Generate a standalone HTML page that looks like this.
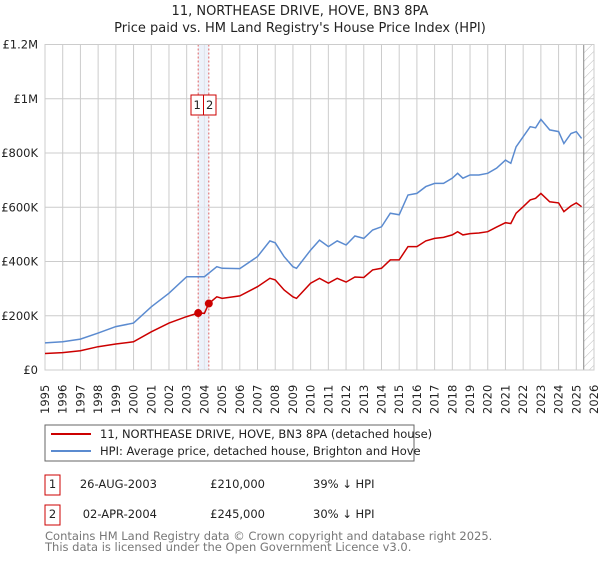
<!DOCTYPE html>
<html><head><meta charset="utf-8"><style>
body{margin:0;background:#fff;font-family:"Liberation Sans","DejaVu Sans",sans-serif}
svg text{font-family:"DejaVu Sans","Liberation Sans",sans-serif}
</style></head><body>
<svg id="c" width="600" height="560" viewBox="0 0 600 560" xmlns="http://www.w3.org/2000/svg">
<defs><pattern id="hatch" width="6" height="6" patternUnits="userSpaceOnUse" patternTransform="rotate(45)"><line x1="0" y1="0" x2="0" y2="6" stroke="#bbb" stroke-width="1"/></pattern></defs>
<text x="300" y="15" text-anchor="middle" font-size="13" fill="#222">11, NORTHEASE DRIVE, HOVE, BN3 8PA</text>
<text x="300" y="32" text-anchor="middle" font-size="13" fill="#222">Price paid vs. HM Land Registry's House Price Index (HPI)</text>
<g id="grid"></g><g id="marks"></g><g id="axes"></g>
<g>
<rect x="45" y="425" width="369" height="36" fill="#fff" stroke="#666"/>
<line x1="51" y1="434" x2="91" y2="434" stroke="#cc0000" stroke-width="2"/>
<text x="100" y="438" font-size="11.5" fill="#222">11, NORTHEASE DRIVE, HOVE, BN3 8PA (detached house)</text>
<line x1="51" y1="451" x2="91" y2="451" stroke="#5b8bd0" stroke-width="2"/>
<text x="100" y="455" font-size="11.5" fill="#222">HPI: Average price, detached house, Brighton and Hove</text>
</g>
<g font-size="11.5" fill="#222">
<rect x="45" y="475" width="15" height="20" fill="none" stroke="#cc0000"/><text x="52.5" y="488" text-anchor="middle">1</text>
<text x="157" y="488" text-anchor="end">26-AUG-2003</text><text x="265" y="488" text-anchor="end">£210,000</text><text x="313" y="488">39% ↓ HPI</text>
<rect x="45" y="505" width="15" height="20" fill="none" stroke="#cc0000"/><text x="52.5" y="518" text-anchor="middle">2</text>
<text x="157" y="518" text-anchor="end">02-APR-2004</text><text x="265" y="518" text-anchor="end">£245,000</text><text x="313" y="518">30% ↓ HPI</text>
</g>
<text x="45" y="540" font-size="11.5" fill="#777">Contains HM Land Registry data © Crown copyright and database right 2025.</text>
<text x="45" y="551" font-size="11.5" fill="#777">This data is licensed under the Open Government Licence v3.0.</text>
</svg>
<script>
const hpiYears=[1995,1996,1997,1998,1999,2000,2001,2002,2003,2004,2004.7,2005,2006,2007,2007.7,2008,2008.5,2009,2009.2,2010,2010.5,2011,2011.5,2012,2012.5,2013,2013.5,2014,2014.5,2015,2015.5,2016,2016.5,2017,2017.5,2018,2018.3,2018.6,2019,2019.5,2020,2020.5,2021,2021.3,2021.6,2022,2022.4,2022.7,2023,2023.5,2024,2024.3,2024.7,2025,2025.3];
const hpiValues=[100,104,114,136,160,173,233,283,344,344,381,375,374,418,476,469,418,381,375,442,479,455,476,461,494,485,516,528,578,572,645,651,676,688,688,707,725,707,719,719,725,744,774,762,823,860,897,893,924,885,879,835,872,879,854];
const paidYears=[1995,1996,1997,1998,1999,2000,2001,2002,2003,2003.65,2004,2004.25,2004.7,2005,2006,2007,2007.7,2008,2008.5,2009,2009.2,2010,2010.5,2011,2011.5,2012,2012.5,2013,2013.5,2014,2014.5,2015,2015.5,2016,2016.5,2017,2017.5,2018,2018.3,2018.6,2019,2019.5,2020,2020.5,2021,2021.3,2021.6,2022,2022.4,2022.7,2023,2023.5,2024,2024.3,2024.7,2025,2025.3];
const paidValues=[61,64,71,86,96,104,141,173,197,210,209,245,270,264,273,307,338,332,295,270,264,320,338,320,338,324,343,341,369,375,406,406,455,455,476,485,489,498,510,498,503,505,510,527,543,540,578,602,627,633,651,620,616,584,605,616,602];
const saleYears=[2003.65,2004.25];
const saleValues=[210,245];
const saleLabels=["1","2"];
const yTicks=[0,200,400,600,800,1000,1200];
const yTickLabels=["£0","£200K","£400K","£600K","£800K","£1M","£1.2M"];
const xTicks=[];for(let y=1995;y<=2026;y++)xTicks.push(y);
const dataEnd=2025.42;
const X0=45,X1=594,Y0=370,Y1=44.5;
const sx=v=>X0+(v-1995)/(2026-1995)*(X1-X0);
const sy=v=>Y0-v/1200*(Y0-Y1);
const NS="http://www.w3.org/2000/svg";
function mk(t,a,p){const e=document.createElementNS(NS,t);for(const k in a)e.setAttribute(k,a[k]);p.appendChild(e);return e;}
const grid=document.getElementById('grid'),marks=document.getElementById('marks'),axes=document.getElementById('axes');
xTicks.forEach(t=>{const l=mk('line',{x1:sx(t),x2:sx(t),y1:Y1,y2:Y0,stroke:'#ccc'},grid);


const tx=mk('text',{transform:`translate(${sx(t)+4},414) rotate(-90)`,'font-size':'11.5',fill:'#222'},axes);tx.textContent=t;

});
yTicks.forEach((t,i)=>{const l=mk('line',{x1:X0,x2:X1,y1:sy(t),y2:sy(t),stroke:'#ccc'},grid);


const tx=mk('text',{x:38,y:sy(t)+4,'text-anchor':'end','font-size':'11.5',fill:'#222'},axes);tx.textContent=yTickLabels[i];

});
const h=mk('rect',{x:sx(dataEnd),y:Y1,width:X1-sx(dataEnd),height:Y0-Y1,fill:'url(#hatch)'},grid);


mk('line',{x1:sx(dataEnd),x2:sx(dataEnd),y1:Y1,y2:Y0,stroke:'#888'},grid);
const sh=mk('rect',{x:sx(saleYears[0]),y:Y1,width:sx(saleYears[1])-sx(saleYears[0]),height:Y0-Y1,fill:'#e6ecf8',opacity:0.7},grid);


const mid=(sx(saleYears[0])+sx(saleYears[1]))/2;
saleYears.forEach((y,i)=>{mk('line',{x1:sx(y),x2:sx(y),y1:Y1,y2:Y0,stroke:'#e06060','stroke-dasharray':'2,2'},grid);
const bx=i==0?mid-12.5:mid;
const r=mk('rect',{x:bx,y:95,width:12.5,height:20,fill:'#fff',stroke:'#cc0000'},marks);


const t=mk('text',{x:bx+6.2,y:109,'text-anchor':'middle','font-size':'11.5',fill:'#222'},marks);t.textContent=saleLabels[i];});
mk('rect',{x:X0,y:Y1,width:X1-X0,height:Y0-Y1,fill:'none',stroke:'#ccc'},grid);
const pts=(xs,vs)=>xs.map((x,i)=>sx(x).toFixed(1)+','+sy(vs[i]).toFixed(1)).join(' ');
const hl=mk('polyline',{points:pts(hpiYears,hpiValues),fill:'none',stroke:'#5b8bd0','stroke-width':1.5},marks);


const pl=mk('polyline',{points:pts(paidYears,paidValues),fill:'none',stroke:'#cc0000','stroke-width':1.5},marks);


saleYears.forEach((y,i)=>{const c=mk('circle',{cx:sx(y),cy:sy(saleValues[i]),r:4,fill:'#cc0000'},marks);

});
</script>
</body></html>
